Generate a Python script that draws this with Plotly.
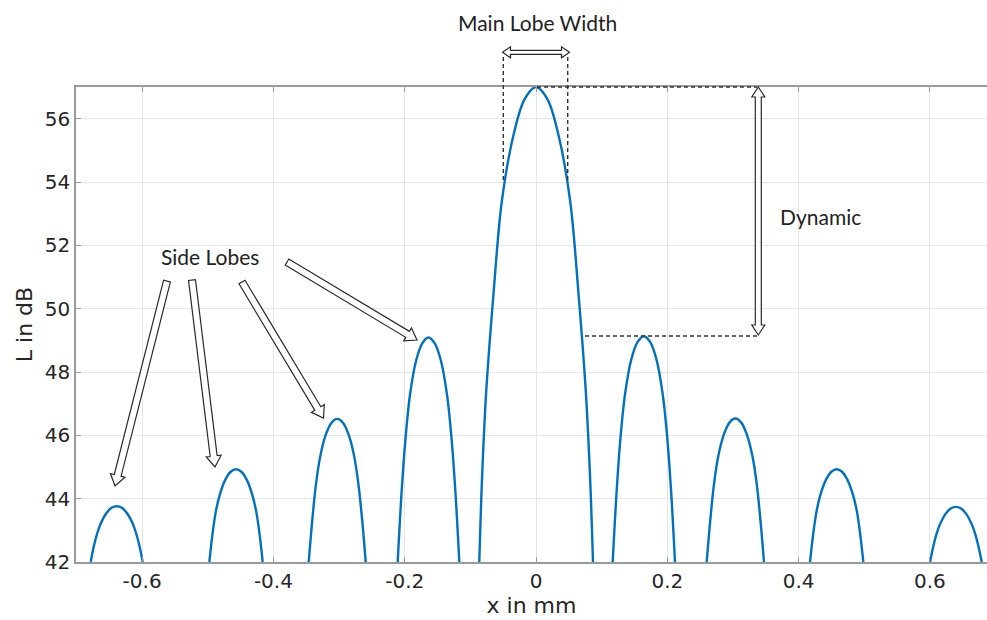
import plotly.graph_objects as go

# ---------------- data ----------------
lobe_m4_x = [-0.6783, -0.6734, -0.6684, -0.6625, -0.6545, -0.6466, -0.6387,
             -0.6308, -0.6229, -0.6149, -0.6090, -0.6041, -0.5991]
lobe_m4_y = [42.0, 42.51, 42.90, 43.24, 43.54, 43.71, 43.76,
             43.71, 43.54, 43.24, 42.90, 42.51, 42.0]
lobe_m3_x = [-0.4976, -0.4925, -0.4874, -0.4813, -0.4732, -0.4651, -0.4570,
             -0.4488, -0.4407, -0.4326, -0.4265, -0.4214, -0.4163]
lobe_m3_y = [42.0, 42.93, 43.63, 44.15, 44.60, 44.85, 44.93,
             44.85, 44.60, 44.15, 43.63, 42.93, 42.0]
lobe_m2_x = [-0.3462, -0.3408, -0.3354, -0.3288, -0.3202, -0.3115, -0.3028,
             -0.2941, -0.2854, -0.2768, -0.2703, -0.2648, -0.2594]
lobe_m2_y = [42.0, 43.32, 44.42, 45.32, 46.02, 46.40, 46.52,
             46.40, 46.02, 45.32, 44.42, 43.32, 42.0]
lobe_m1_x = [-0.2107, -0.2048, -0.1988, -0.1919, -0.1825, -0.1731, -0.1638,
             -0.1544, -0.1450, -0.1356, -0.1286, -0.1227, -0.1168]
lobe_m1_y = [42.0, 44.19, 45.89, 47.29, 48.37, 48.91, 49.09,
             48.91, 48.37, 47.29, 45.89, 44.19, 42.0]
main_x = [-0.0864, -0.0821, -0.0758, -0.0650, -0.0520, -0.0346, -0.0173, 0.0,
          0.0173, 0.0346, 0.0520, 0.0650, 0.0758, 0.0823, 0.0868]
main_y = [42.0, 44.7, 47.4, 50.4, 53.4, 55.45, 56.62, 57.0,
          56.62, 55.45, 53.4, 50.4, 47.4, 44.7, 42.0]
lobe_p1_x = [0.1168, 0.1228, 0.1287, 0.1358, 0.1453, 0.1548, 0.1643,
             0.1738, 0.1833, 0.1928, 0.1999, 0.2058, 0.2117]
lobe_p1_y = [42.0, 44.23, 45.93, 47.33, 48.41, 48.95, 49.13,
             48.95, 48.41, 47.33, 45.93, 44.23, 42.0]
lobe_p2_x = [0.2600, 0.2655, 0.2709, 0.2775, 0.2862, 0.2949, 0.3037,
             0.3124, 0.3211, 0.3298, 0.3364, 0.3418, 0.3473]
lobe_p2_y = [42.0, 43.33, 44.43, 45.33, 46.03, 46.41, 46.53,
             46.41, 46.03, 45.33, 44.43, 43.33, 42.0]
lobe_p3_x = [0.4174, 0.4225, 0.4276, 0.4336, 0.4418, 0.4499, 0.4580,
             0.4661, 0.4742, 0.4824, 0.4885, 0.4935, 0.4986]
lobe_p3_y = [42.0, 42.93, 43.63, 44.15, 44.60, 44.85, 44.93,
             44.85, 44.60, 44.15, 43.63, 42.93, 42.0]
lobe_p4_x = [0.6002, 0.6051, 0.6100, 0.6159, 0.6238, 0.6317, 0.6396,
             0.6474, 0.6553, 0.6632, 0.6691, 0.6740, 0.6789]
lobe_p4_y = [42.0, 42.49, 42.88, 43.22, 43.52, 43.69, 43.74,
             43.69, 43.52, 43.22, 42.88, 42.49, 42.0]

x_tick_vals = [-0.6, -0.4, -0.2, 0.0, 0.2, 0.4, 0.6]
x_tick_text = ["-0.6", "-0.4", "-0.2", "0", "0.2", "0.4", "0.6"]
y_tick_vals = [42, 44, 46, 48, 50, 52, 54, 56]
y_tick_text = ["42", "44", "46", "48", "50", "52", "54", "56"]

lobes = [(lobe_m4_x, lobe_m4_y), (lobe_m3_x, lobe_m3_y), (lobe_m2_x, lobe_m2_y),
         (lobe_m1_x, lobe_m1_y), (main_x, main_y), (lobe_p1_x, lobe_p1_y),
         (lobe_p2_x, lobe_p2_y), (lobe_p3_x, lobe_p3_y), (lobe_p4_x, lobe_p4_y)]
xs, ys = [], []
for lx, ly in lobes:
    xs += lx + [None]
    ys += ly + [None]

# ---------------- layout geometry ----------------
W, H = 987, 620
ML, MT, MB, MR = 76, 87, 58, 0
PW = W - ML - MR
PH = H - MT - MB
X0 = -0.7007
X1 = X0 + PW / 656.5


def pxp(px):
    return (px - ML) / PW


def pyp(py):
    return (H - MB - py) / PH


def poly_path(pts):
    return "M " + " L ".join(f"{pxp(a):.5f},{pyp(b):.5f}" for a, b in pts) + " Z"


def block_arrow(p0, p1, shaft, head_w, head_len, double=False):
    (x0, y0), (x1, y1) = p0, p1
    dx, dy = x1 - x0, y1 - y0
    L = (dx * dx + dy * dy) ** 0.5
    ux, uy = dx / L, dy / L
    nx, ny = -uy, ux
    s, h = shaft / 2, head_w / 2
    b1 = (x1 - ux * head_len, y1 - uy * head_len)
    if double:
        b0 = (x0 + ux * head_len, y0 + uy * head_len)
        pts = [(x0, y0),
               (b0[0] + nx * h, b0[1] + ny * h), (b0[0] + nx * s, b0[1] + ny * s),
               (b1[0] + nx * s, b1[1] + ny * s), (b1[0] + nx * h, b1[1] + ny * h),
               (x1, y1),
               (b1[0] - nx * h, b1[1] - ny * h), (b1[0] - nx * s, b1[1] - ny * s),
               (b0[0] - nx * s, b0[1] - ny * s), (b0[0] - nx * h, b0[1] - ny * h)]
    else:
        pts = [(x0 + nx * s, y0 + ny * s),
               (b1[0] + nx * s, b1[1] + ny * s), (b1[0] + nx * h, b1[1] + ny * h),
               (x1, y1),
               (b1[0] - nx * h, b1[1] - ny * h), (b1[0] - nx * s, b1[1] - ny * s),
               (x0 - nx * s, y0 - ny * s)]
    return poly_path(pts)


shapes = []
dash_line = dict(color="#333333", width=1.4, dash="4px,3px")
for (a, b), (c, d) in [((503.3, 57), (503.3, 182)), ((567.7, 57), (567.7, 182)),
                       ((537, 87), (757, 87)), ((585, 336), (757, 336))]:
    shapes.append(dict(type="line", xref="paper", yref="paper",
                       x0=pxp(a), y0=pyp(b), x1=pxp(c), y1=pyp(d), line=dash_line))

arrow_style = dict(type="path", xref="paper", yref="paper", fillcolor="white",
                   line=dict(color="#2a2a2a", width=1.2))
shapes.append(dict(path=block_arrow((502.5, 52.3), (569.5, 52.3), 4, 11, 8, double=True), **arrow_style))
shapes.append(dict(path=block_arrow((758.3, 87), (758.3, 335), 6, 13, 10, double=True), **arrow_style))
for p0, p1 in [((167, 281), (115, 486)), ((192, 280), (215, 467)),
               ((242, 282), (323.5, 418)), ((287, 262), (417, 340))]:
    shapes.append(dict(path=block_arrow(p0, p1, 7, 15, 11), **arrow_style))

ann_font = dict(family="Lato, Carlito, sans-serif", size=21, color="#222222")
annotations = [
    dict(text="Main Lobe Width", xref="paper", yref="paper", x=pxp(537), y=pyp(22),
         showarrow=False, font=ann_font, xanchor="center", yanchor="middle"),
    dict(text="Side Lobes", xref="paper", yref="paper", x=pxp(210), y=pyp(256.7),
         showarrow=False, font=ann_font, xanchor="center", yanchor="middle"),
    dict(text="Dynamic", xref="paper", yref="paper", x=pxp(778), y=pyp(217),
         showarrow=False, font=ann_font, xanchor="left", yanchor="middle"),
]

fig = go.Figure()
fig.add_trace(go.Scatter(x=xs, y=ys, mode="lines", connectgaps=False,
                         line=dict(color="#0072BD", width=2.4, shape="spline", smoothing=1.0),
                         showlegend=False, hoverinfo="skip"))

axis_col = "#9a9a9a"
tick_font = dict(family="DejaVu Sans, sans-serif", size=20, color="#262626")
title_font = dict(family="DejaVu Sans, sans-serif", size=22, color="#262626")
fig.update_layout(
    width=W, height=H, margin=dict(l=ML, r=MR, t=MT, b=MB, autoexpand=False),
    paper_bgcolor="white", plot_bgcolor="white",
    shapes=shapes, annotations=annotations,
    xaxis=dict(range=[X0, X1], tickmode="array", tickvals=x_tick_vals, ticktext=x_tick_text,
               showgrid=True, gridcolor="#e6e6e6", gridwidth=1, zeroline=False,
               showline=True, linecolor=axis_col, linewidth=1.5, mirror="ticks",
               ticks="inside", ticklen=5, tickcolor=axis_col, tickfont=tick_font,
               title=dict(text="x in mm", font=title_font, standoff=2)),
    yaxis=dict(range=[42, 57], tickmode="array", tickvals=y_tick_vals, ticktext=y_tick_text,
               showgrid=True, gridcolor="#e6e6e6", gridwidth=1, zeroline=False,
               showline=True, linecolor=axis_col, linewidth=1.5, mirror=False,
               ticks="inside", ticklen=5, tickcolor=axis_col, tickfont=tick_font,
               title=dict(text="L in dB", font=title_font, standoff=6)),
)

fig.write_html("out.html")
